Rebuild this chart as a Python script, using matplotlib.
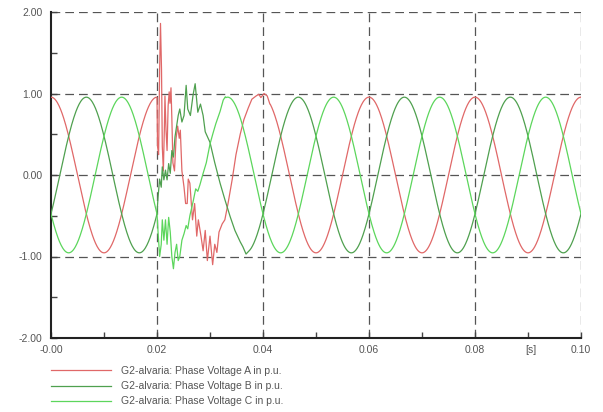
import numpy as np
import matplotlib
matplotlib.use("Agg")
import matplotlib.pyplot as plt
from matplotlib.ticker import MultipleLocator

plt.rcParams['font.family'] = ['Liberation Sans', 'DejaVu Sans']

# Steady-state waveform parameters (p.u., Hz, degrees)
AMPLITUDE = 0.955
FREQ_HZ = 50.0
PHASE_DEG = {"A": 0.0, "B": -120.0, "C": -240.0}

# Transient segments after the fault: (time [s], voltage [p.u.])
trans_a_t = [0.0200, 0.0201, 0.0203, 0.0205, 0.02066, 0.02085, 0.0210, 0.0212,
             0.0214, 0.0215, 0.0217, 0.0219, 0.0221, 0.0223, 0.02245, 0.02264,
             0.0228, 0.0230, 0.0233, 0.0236, 0.0239, 0.0242, 0.0244, 0.0247,
             0.0251, 0.0254, 0.0257, 0.0259, 0.0262, 0.0267, 0.0271, 0.0275,
             0.0278, 0.0283, 0.0287, 0.0291, 0.0295, 0.0300, 0.0305, 0.0309,
             0.0313, 0.0317, 0.0323, 0.0328, 0.0334, 0.0342, 0.0349, 0.0357,
             0.0364, 0.0372, 0.0379, 0.0387, 0.0392, 0.0396, 0.0402, 0.0408,
             0.0413]
trans_a_v = [0.95, 0.35, 0.25, 1.30, 1.86, 1.30, 0.35, 0.05,
             0.60, 0.97, 0.55, 0.30, 0.85, 1.02, 0.88, 1.07,
             0.70, 0.15, 0.05, 0.45, 0.60, 0.45, 0.55, 0.05,
             -0.15, -0.35, -0.35, -0.05, -0.10, -0.55, -0.35, -0.75,
             -0.55, -0.75, -0.93, -0.68, -1.05, -0.75, -1.10, -0.85,
             -0.95, -0.70, -0.60, -0.55, -0.35, -0.05, 0.25, 0.50,
             0.68, 0.82, 0.93, 0.97, 0.99, 0.95, 1.00, 0.97,
             0.87]

trans_b_t = [0.0200, 0.0202, 0.0205, 0.0208, 0.0210, 0.0213, 0.0216, 0.0219,
             0.0222, 0.0225, 0.0228, 0.0231, 0.0234, 0.0237, 0.0240, 0.0243,
             0.0247, 0.0251, 0.0255, 0.0258, 0.0263, 0.0268, 0.0272, 0.0277,
             0.0282, 0.0287, 0.0291, 0.0300, 0.0309, 0.0319, 0.0328, 0.0338,
             0.0347, 0.0357, 0.0362, 0.0368, 0.0374]
trans_b_v = [-0.47, -0.27, -0.05, -0.15, 0.10, -0.06, 0.06, -0.06,
             0.14, 0.02, 0.30, 0.22, 0.47, 0.60, 0.73, 0.81,
             0.65, 0.73, 1.10, 0.81, 0.73, 0.98, 1.12, 0.77,
             0.87, 0.73, 0.53, 0.40, 0.15, -0.10, -0.30, -0.51,
             -0.68, -0.82, -0.88, -0.97, -0.93]

trans_c_t = [0.0200, 0.0202, 0.0205, 0.0208, 0.0210, 0.0213, 0.0216, 0.0219,
             0.0222, 0.0225, 0.0228, 0.0231, 0.0234, 0.0237, 0.0240, 0.0243,
             0.0247, 0.0251, 0.0255, 0.0258, 0.0262, 0.0268, 0.0273, 0.0277,
             0.0281, 0.0287, 0.0293, 0.0300, 0.0306, 0.0311, 0.0319, 0.0325,
             0.0329]
trans_c_v = [-0.475, -0.70, -1.00, -0.85, -0.55, -0.80, -0.55, -0.85,
             -0.52, -0.70, -1.00, -1.15, -0.95, -0.85, -1.05, -1.00,
             -0.80, -0.72, -0.62, -0.66, -0.50, -0.33, -0.17, -0.20,
             -0.12, 0.02, 0.15, 0.38, 0.52, 0.63, 0.78, 0.92,
             0.96]

series_labels = ["G2-alvaria: Phase Voltage A in p.u.",
                 "G2-alvaria: Phase Voltage B in p.u.",
                 "G2-alvaria: Phase Voltage C in p.u."]
series_colors = ["#e06868", "#4fa04f", "#5cd65c"]

x_ticks = [0.00, 0.02, 0.04, 0.06, 0.08, 0.10]
x_tick_labels = ["-0.00", "0.02", "0.04", "0.06", "0.08", "0.10"]
y_ticks = [-2.0, -1.0, 0.0, 1.0, 2.0]
y_tick_labels = ["-2.00", "-1.00", "0.00", "1.00", "2.00"]
T_END = 0.10


def steady(t, phase_deg):
    return AMPLITUDE * np.cos(2 * np.pi * FREQ_HZ * t + np.deg2rad(phase_deg))


def phase_trace(phase_deg, tt, tv):
    t_pre = np.linspace(0.0, tt[0], 200, endpoint=False)
    t_post = np.linspace(tt[-1], T_END, 800)[1:]
    t = np.concatenate([t_pre, tt, t_post])
    v = np.concatenate([steady(t_pre, phase_deg), tv, steady(t_post, phase_deg)])
    return t, v


fig = plt.figure(figsize=(6.03, 4.12), dpi=100)
ax = fig.add_axes([51 / 603, 1 - 338 / 412, 530 / 603, 326 / 412])

traces = [
    phase_trace(PHASE_DEG["A"], np.array(trans_a_t), np.array(trans_a_v)),
    phase_trace(PHASE_DEG["B"], np.array(trans_b_t), np.array(trans_b_v)),
    phase_trace(PHASE_DEG["C"], np.array(trans_c_t), np.array(trans_c_v)),
]

lines = []
for (t, v), col, lab in zip(traces, series_colors, series_labels):
    ln, = ax.plot(t, v, color=col, lw=0.9, label=lab, zorder=3)
    lines.append(ln)

ax.set_xlim(0.0, T_END)
ax.set_ylim(-2.0, 2.0)

ax.set_xticks(x_ticks)
ax.set_xticklabels(x_tick_labels)
ax.set_yticks(y_ticks)
ax.set_yticklabels(y_tick_labels)
ax.xaxis.set_minor_locator(MultipleLocator(0.01))
ax.yaxis.set_minor_locator(MultipleLocator(0.5))
ax.tick_params(axis='both', which='both', direction='in', colors='#444444',
               labelsize=7.5, labelcolor='#555555')
ax.tick_params(which='major', length=4, width=1)
ax.tick_params(which='minor', length=4, width=1)
ax.tick_params(axis='x', pad=5)
ax.tick_params(axis='y', pad=6)

# dashed grid at every major tick, including the outer limits
grid_kw = dict(color='#555555', lw=0.9, dashes=(7, 4), zorder=1)
for xv in x_ticks[1:]:
    ax.axvline(xv, **grid_kw)
for yv in y_ticks[1:]:
    ax.axhline(yv, **grid_kw)

for side in ("top", "right"):
    ax.spines[side].set_visible(False)
for side in ("left", "bottom"):
    ax.spines[side].set_color('#222222')
    ax.spines[side].set_linewidth(1.5)

# time unit, set in the tick-label row
ax.annotate("[s]", xy=(0.0905, 0), xycoords=('data', 'axes fraction'),
            xytext=(0, -5), textcoords='offset points', ha='center',
            va='top', fontsize=7.5, color='#555555')

fig.legend(handles=lines, labels=series_labels, loc='upper left',
           bbox_to_anchor=(51 / 603, 1 - 366 / 412), frameon=False,
           fontsize=7.5, labelcolor='#555555', handlelength=5.8,
           handletextpad=0.9, labelspacing=0.5, borderaxespad=0,
           borderpad=0)

fig.savefig("out.png", dpi=100, facecolor='white')
